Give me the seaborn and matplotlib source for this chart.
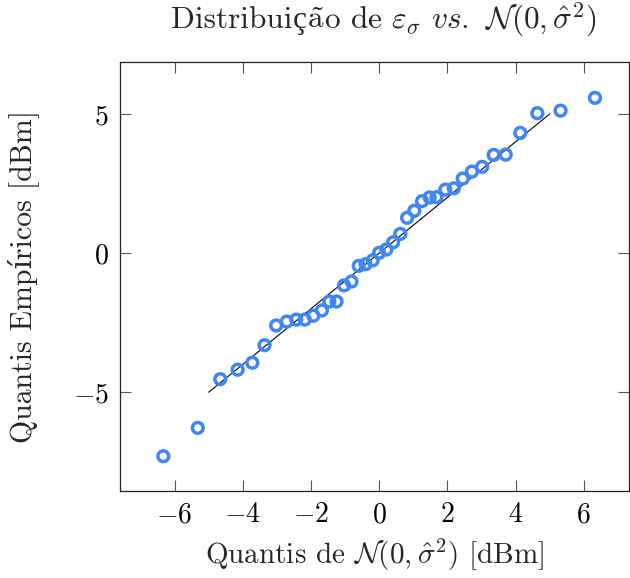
import numpy as np
import pandas as pd
import matplotlib
matplotlib.use("Agg")
import matplotlib.pyplot as plt
import seaborn as sns

theoretical = [-6.33, -5.32, -4.66, -4.15, -3.72, -3.36, -3.02, -2.71, -2.43, -2.18,
               -1.93, -1.68, -1.46, -1.25, -1.03, -0.81, -0.60, -0.40, -0.19, 0.0,
               0.21, 0.41, 0.62, 0.82, 1.03, 1.26, 1.48, 1.68, 1.94, 2.19,
               2.45, 2.72, 3.02, 3.36, 3.71, 4.14, 4.64, 5.32, 6.33]
empirical = [-7.30, -6.28, -4.53, -4.19, -3.94, -3.31, -2.60, -2.46, -2.39, -2.39,
             -2.25, -2.06, -1.74, -1.74, -1.16, -1.02, -0.46, -0.40, -0.26, 0.01,
             0.13, 0.39, 0.69, 1.27, 1.52, 1.87, 2.00, 2.01, 2.28, 2.33,
             2.68, 2.93, 3.10, 3.53, 3.54, 4.32, 5.03, 5.12, 5.58]
ref_x = [-5, 5]
ref_y = [-5, 5]
xticks = [-6, -4, -2, 0, 2, 4, 6]
yticks = [-5, 0, 5]

sns.set_theme(style="white")
plt.rcParams['font.family'] = ['cmr10', 'DejaVu Serif']
plt.rcParams['mathtext.fontset'] = 'cm'
plt.rcParams['axes.formatter.use_mathtext'] = True
plt.rcParams['axes.unicode_minus'] = True

blue = "#4285F4"
fig = plt.figure(figsize=(6.3, 5.78), dpi=100)
W, H = 630, 578
ax = fig.add_axes([0.1905, 0.1505, 0.8075, 0.7428])

df = pd.DataFrame({"x": theoretical, "y": empirical})
sns.lineplot(x=ref_x, y=ref_y, ax=ax, color="black", linewidth=0.8)
sns.scatterplot(data=df, x="x", y="y", ax=ax, marker="o", s=60,
                facecolors="none", edgecolor=blue, linewidth=2.5, zorder=3)

ax.set_xlim(-7.6, 7.32)
ax.set_ylim(-8.55, 6.88)
ax.set_xticks(xticks)
ax.set_yticks(yticks)
ax.set_xticklabels([f"${v}$" for v in xticks])
ax.set_yticklabels([f"${v}$" for v in yticks])
ax.tick_params(direction="in", length=8, width=0.8, top=True, right=True,
               bottom=True, left=True, labelsize=20, colors="#555555",
               labelcolor="black", pad=8)
for s in ax.spines.values():
    s.set_color("#222222")
    s.set_linewidth(0.9)

ax.set_xlabel(r"Quantis de $\mathcal{N}(0,\hat{\sigma}^2)$ [dBm]", fontsize=21, labelpad=6)
ax.set_ylabel("Quantis Empíricos [dBm]", fontsize=21.5, labelpad=24)

# Title built from pieces so that every glyph is drawn correctly
fs_title = 22.5
parts = [("Distribui", ['cmr10']),
         ("ç", ['Liberation Serif']),
         (r"$\tilde{\mathrm{a}}$", ['cmr10']),
         (r"o de $\varepsilon_\sigma$ $vs.$ $\mathcal{N}(0,\hat{\sigma}^2)$", ['cmr10'])]
fig.canvas.draw()
renderer = fig.canvas.get_renderer()
texts = []
for s, fam in parts:
    t = fig.text(0, 1 - 28 / H, s, family=fam, fontsize=fs_title, va="baseline", ha="left")
    texts.append(t)
widths = [t.get_window_extent(renderer).width for t in texts]
total = sum(widths)
x0 = 384 - total / 2
for t, w in zip(texts, widths):
    t.set_x(x0 / W)
    x0 += w

fig.savefig("out.png", dpi=100)
